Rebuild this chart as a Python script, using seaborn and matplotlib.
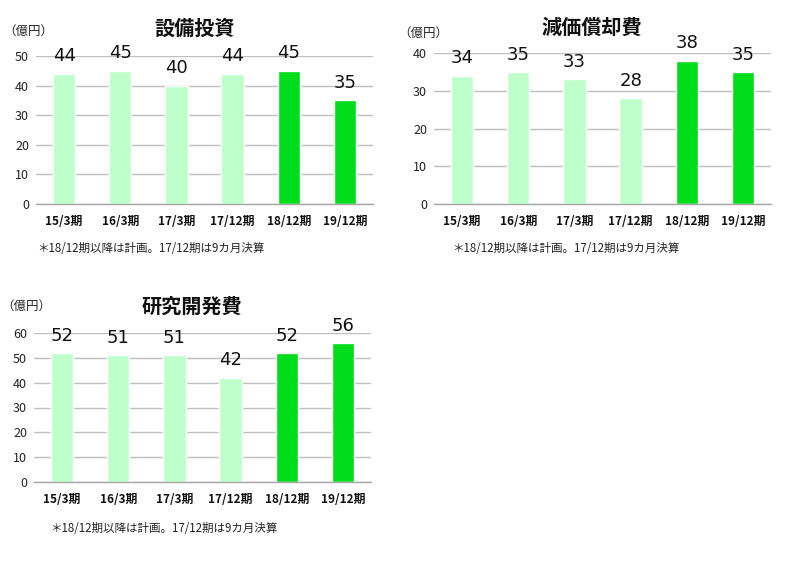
import matplotlib
matplotlib.use("Agg")
import matplotlib.pyplot as plt
import seaborn as sns
import numpy as np

sns.set_theme(style="white")
plt.rcParams['font.family'] = ['Noto Sans CJK JP', 'DejaVu Sans']

categories = ["15/3期", "16/3期", "17/3期", "17/12期", "18/12期", "19/12期"]
capex = [44, 45, 40, 44, 45, 35]
depreciation = [34, 35, 33, 28, 38, 35]
rnd = [52, 51, 51, 42, 52, 56]
titles = ["設備投資", "減価償却費", "研究開発費"]
ymaxes = [50, 40, 60]
unit = "（億円）"
note = "＊18/12期以降は計画。17/12期は9カ月決算"

light = "#BFFFCC"
dark = "#00DD1A"
colors = [light, light, light, light, dark, dark]

W, H = 799, 561
fig = plt.figure(figsize=(W / 100, H / 100), dpi=100)

def fx(px):
    return px / W

def fy(py):
    return 1 - py / H

panels = [
    dict(vals=capex, title=titles[0], ymax=ymaxes[0], l=36, r=373, t=56, b=204,
         tx=195, ty=28, ux=3, uy=31, nx=37, ny=249),
    dict(vals=depreciation, title=titles[1], ymax=ymaxes[1], l=434, r=771, t=53, b=204,
         tx=592, ty=27, ux=398, uy=33, nx=452, ny=249),
    dict(vals=rnd, title=titles[2], ymax=ymaxes[2], l=34, r=371, t=333, b=482,
         tx=192, ty=306, ux=1, uy=306, nx=50, ny=529),
]

for p in panels:
    ax = fig.add_axes([fx(p['l']), fy(p['b']), fx(p['r'] - p['l']), (p['b'] - p['t']) / H])
    sns.barplot(x=categories, y=p['vals'], hue=categories, palette=colors,
                legend=False, width=0.4, ax=ax, saturation=1)
    ax.set_xlim(-0.5, len(categories) - 0.5)
    ax.set_ylim(0, p['ymax'])
    ax.set_yticks(np.arange(0, p['ymax'] + 1, 10))
    ax.yaxis.grid(True, color="#BFBFBF", linewidth=1)
    ax.set_axisbelow(True)
    for s in ['top', 'right', 'left']:
        ax.spines[s].set_visible(False)
    ax.spines['bottom'].set_color("#A6A6A6")
    ax.spines['bottom'].set_linewidth(1)
    ax.tick_params(axis='y', length=0, labelsize=9, pad=5, colors="#222222")
    ax.tick_params(axis='x', which='major', length=0, labelsize=8.5, pad=8, colors="#111111")
    ax.set_xticks(np.arange(-0.5, len(categories), 1), minor=True)
    ax.tick_params(axis='x', which='minor', length=4, color="#A6A6A6", direction='out')
    for lab in ax.get_xticklabels():
        lab.set_fontweight('bold')
    ax.set_xlabel("")
    ax.set_ylabel("")
    for i, v in enumerate(p['vals']):
        ax.annotate(str(v), (i, v), xytext=(0, 6), textcoords='offset points',
                    ha='center', va='bottom', fontsize=13, color="#111111",
                    family=['DejaVu Sans'], annotation_clip=False)
    fig.text(fx(p['tx']), fy(p['ty']), p['title'], ha='center', va='center',
             fontsize=14.5, fontweight='bold', color="#111111")
    fig.text(fx(p['ux']), fy(p['uy']), unit, ha='left', va='center',
             fontsize=9, color="#222222")
    fig.text(fx(p['nx']), fy(p['ny']), note, ha='left', va='center',
             fontsize=8.3, color="#222222")

fig.savefig("out.png", dpi=100)
